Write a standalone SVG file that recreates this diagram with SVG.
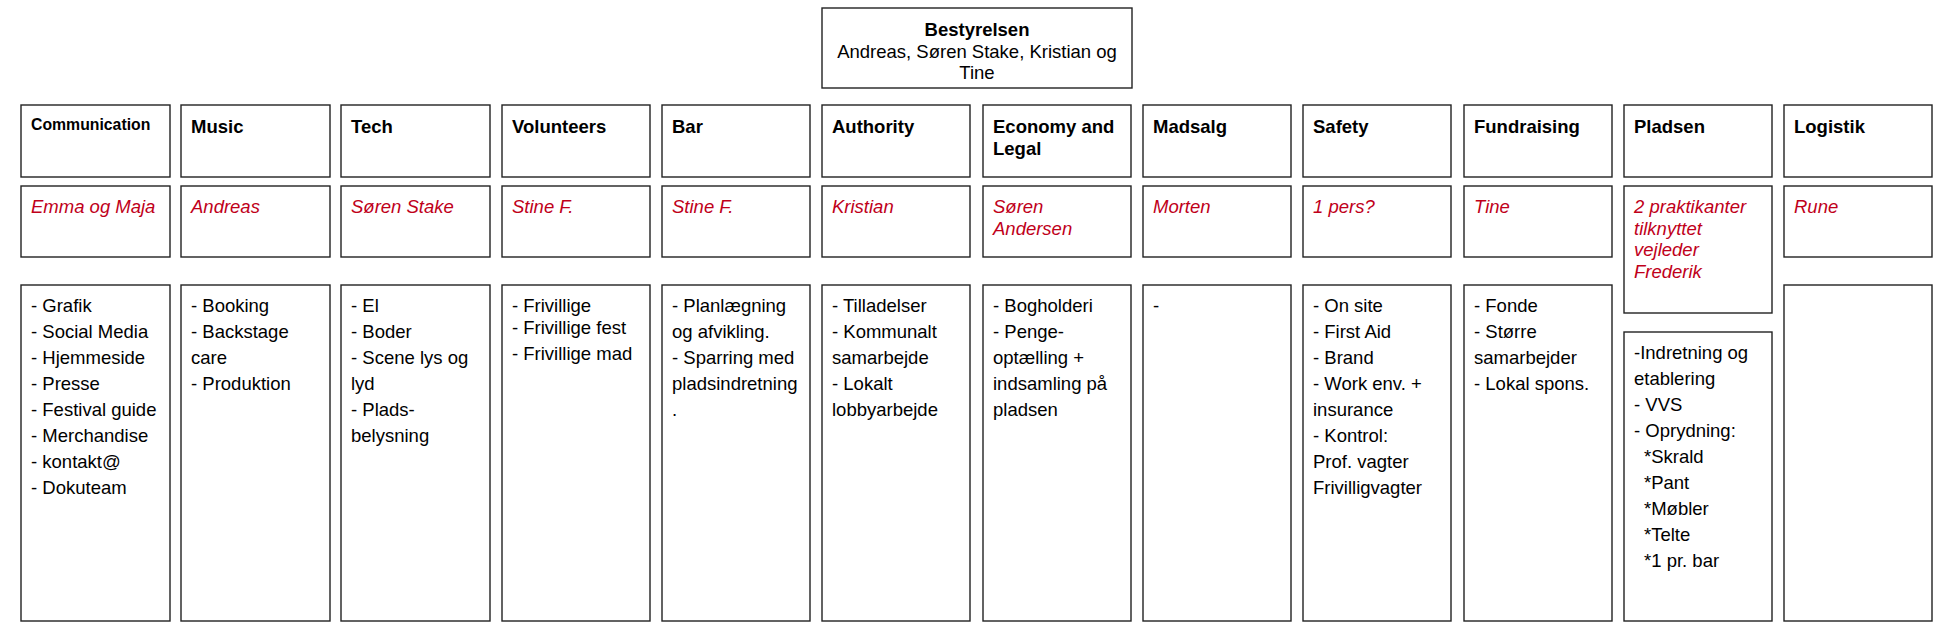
<svg xmlns="http://www.w3.org/2000/svg" width="1957" height="632" viewBox="0 0 1957 632">
<style>
rect.b{fill:#fff;stroke:#222;stroke-width:1.4}
text{font-family:"Liberation Sans",Arial,sans-serif;font-size:18.5px;fill:#000}
.h{font-weight:bold}
.n{font-style:italic;fill:#c0001a}
.c{text-anchor:middle}
</style>
<rect width="1957" height="632" fill="#fff"/>
<g id="bestyrelsen">
<rect class="b" x="822" y="8" width="310" height="80"/>
<text class="c h" x="977" y="36">Bestyrelsen</text>
<text class="c" x="977" y="57.5">Andreas, Søren Stake, Kristian og</text>
<text class="c" x="977" y="79">Tine</text>
</g>
<g id="connectors"></g>
<g id="communication">
<rect class="b" x="21" y="105" width="149" height="72"/>
<text class="h" x="31" y="130" style="font-size:15.8px">Communication</text>
<rect class="b" x="21" y="186" width="149" height="71"/>
<text class="n" x="31" y="213">Emma og Maja</text>
<rect class="b" x="21" y="285" width="149" height="336"/>
<text x="31" y="312">- Grafik</text>
<text x="31" y="338">- Social Media</text>
<text x="31" y="364">- Hjemmeside</text>
<text x="31" y="390">- Presse</text>
<text x="31" y="416">- Festival guide</text>
<text x="31" y="442">- Merchandise</text>
<text x="31" y="468">- kontakt@</text>
<text x="31" y="494">- Dokuteam</text>
</g>
<g id="music">
<rect class="b" x="181" y="105" width="149" height="72"/>
<text class="h" x="191" y="133">Music</text>
<rect class="b" x="181" y="186" width="149" height="71"/>
<text class="n" x="191" y="213">Andreas</text>
<rect class="b" x="181" y="285" width="149" height="336"/>
<text x="191" y="312">- Booking</text>
<text x="191" y="338">- Backstage</text>
<text x="191" y="364">care</text>
<text x="191" y="390">- Produktion</text>
</g>
<g id="tech">
<rect class="b" x="341" y="105" width="149" height="72"/>
<text class="h" x="351" y="133">Tech</text>
<rect class="b" x="341" y="186" width="149" height="71"/>
<text class="n" x="351" y="213">Søren Stake</text>
<rect class="b" x="341" y="285" width="149" height="336"/>
<text x="351" y="312">- El</text>
<text x="351" y="338">- Boder</text>
<text x="351" y="364">- Scene lys og</text>
<text x="351" y="390">lyd</text>
<text x="351" y="416">- Plads-</text>
<text x="351" y="442">belysning</text>
</g>
<g id="volunteers">
<rect class="b" x="502" y="105" width="148" height="72"/>
<text class="h" x="512" y="133">Volunteers</text>
<rect class="b" x="502" y="186" width="148" height="71"/>
<text class="n" x="512" y="213">Stine F.</text>
<rect class="b" x="502" y="285" width="148" height="336"/>
<text x="512" y="312">- Frivillige</text>
<text x="512" y="334">- Frivillige fest</text>
<text x="512" y="360">- Frivillige mad</text>
</g>
<g id="bar">
<rect class="b" x="662" y="105" width="148" height="72"/>
<text class="h" x="672" y="133">Bar</text>
<rect class="b" x="662" y="186" width="148" height="71"/>
<text class="n" x="672" y="213">Stine F.</text>
<rect class="b" x="662" y="285" width="148" height="336"/>
<text x="672" y="312">- Planlægning</text>
<text x="672" y="338">og afvikling.</text>
<text x="672" y="364">- Sparring med</text>
<text x="672" y="390">pladsindretning</text>
<text x="672" y="416">.</text>
</g>
<g id="authority">
<rect class="b" x="822" y="105" width="148" height="72"/>
<text class="h" x="832" y="133">Authority</text>
<rect class="b" x="822" y="186" width="148" height="71"/>
<text class="n" x="832" y="213">Kristian</text>
<rect class="b" x="822" y="285" width="148" height="336"/>
<text x="832" y="312">- Tilladelser</text>
<text x="832" y="338">- Kommunalt</text>
<text x="832" y="364">samarbejde</text>
<text x="832" y="390">- Lokalt</text>
<text x="832" y="416">lobbyarbejde</text>
</g>
<g id="economy">
<rect class="b" x="983" y="105" width="148" height="72"/>
<text class="h" x="993" y="133">Economy and</text>
<text class="h" x="993" y="154.5">Legal</text>
<rect class="b" x="983" y="186" width="148" height="71"/>
<text class="n" x="993" y="212.5">Søren</text>
<text class="n" x="993" y="234.5">Andersen</text>
<rect class="b" x="983" y="285" width="148" height="336"/>
<text x="993" y="312">- Bogholderi</text>
<text x="993" y="338">- Penge-</text>
<text x="993" y="364">optælling +</text>
<text x="993" y="390">indsamling på</text>
<text x="993" y="416">pladsen</text>
</g>
<g id="madsalg">
<rect class="b" x="1143" y="105" width="148" height="72"/>
<text class="h" x="1153" y="133">Madsalg</text>
<rect class="b" x="1143" y="186" width="148" height="71"/>
<text class="n" x="1153" y="213">Morten</text>
<rect class="b" x="1143" y="285" width="148" height="336"/>
<text x="1153" y="312">-</text>
</g>
<g id="safety">
<rect class="b" x="1303" y="105" width="148" height="72"/>
<text class="h" x="1313" y="133">Safety</text>
<rect class="b" x="1303" y="186" width="148" height="71"/>
<text class="n" x="1313" y="213">1 pers?</text>
<rect class="b" x="1303" y="285" width="148" height="336"/>
<text x="1313" y="312">- On site</text>
<text x="1313" y="338">- First Aid</text>
<text x="1313" y="364">- Brand</text>
<text x="1313" y="390">- Work env. +</text>
<text x="1313" y="416">insurance</text>
<text x="1313" y="442">- Kontrol:</text>
<text x="1313" y="468">Prof. vagter</text>
<text x="1313" y="494">Frivilligvagter</text>
</g>
<g id="fundraising">
<rect class="b" x="1464" y="105" width="148" height="72"/>
<text class="h" x="1474" y="133">Fundraising</text>
<rect class="b" x="1464" y="186" width="148" height="71"/>
<text class="n" x="1474" y="213">Tine</text>
<rect class="b" x="1464" y="285" width="148" height="336"/>
<text x="1474" y="312">- Fonde</text>
<text x="1474" y="338">- Større</text>
<text x="1474" y="364">samarbejder</text>
<text x="1474" y="390">- Lokal spons.</text>
</g>
<g id="pladsen">
<rect class="b" x="1624" y="105" width="148" height="72"/>
<text class="h" x="1634" y="133">Pladsen</text>
<rect class="b" x="1624" y="186" width="148" height="127"/>
<text class="n" x="1634" y="213">2 praktikanter</text>
<text class="n" x="1634" y="234.5">tilknyttet</text>
<text class="n" x="1634" y="256">vejleder</text>
<text class="n" x="1634" y="277.5">Frederik</text>
<rect class="b" x="1624" y="332" width="148" height="289"/>
<text x="1634" y="359">-Indretning og</text>
<text x="1634" y="385">etablering</text>
<text x="1634" y="411">- VVS</text>
<text x="1634" y="437">- Oprydning:</text>
<text x="1644" y="463">*Skrald</text>
<text x="1644" y="489">*Pant</text>
<text x="1644" y="515">*Møbler</text>
<text x="1644" y="541">*Telte</text>
<text x="1644" y="567">*1 pr. bar</text>
</g>
<g id="logistik">
<rect class="b" x="1784" y="105" width="148" height="72"/>
<text class="h" x="1794" y="133">Logistik</text>
<rect class="b" x="1784" y="186" width="148" height="71"/>
<text class="n" x="1794" y="213">Rune</text>
<rect class="b" x="1784" y="285" width="148" height="336"/>
</g>
</svg>
